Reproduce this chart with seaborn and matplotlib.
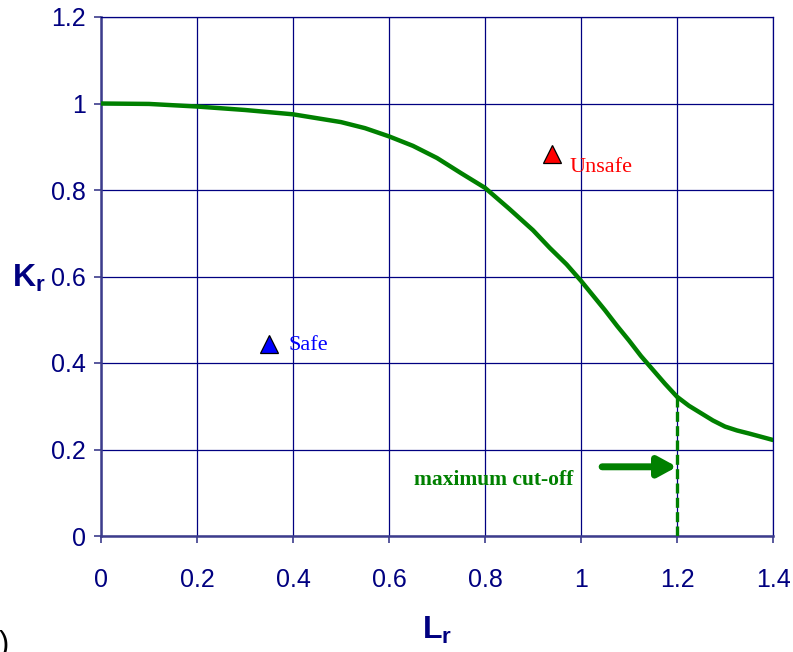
import matplotlib
matplotlib.use("Agg")
import matplotlib.pyplot as plt
import seaborn as sns
import numpy as np
import pandas as pd

# Failure assessment curve
lr_curve = [0.0, 0.1, 0.2, 0.3, 0.4, 0.5, 0.55, 0.6, 0.65, 0.7, 0.75, 0.8,
            0.85, 0.9, 0.935, 0.97, 1.0, 1.025, 1.05, 1.075, 1.1, 1.125,
            1.15, 1.175, 1.2, 1.225, 1.25, 1.275, 1.3, 1.325, 1.35, 1.4]
kr_curve = [1.0, 0.999, 0.993, 0.985, 0.975, 0.957, 0.943, 0.924, 0.902,
            0.874, 0.839, 0.805, 0.757, 0.707, 0.666, 0.628, 0.59, 0.556,
            0.522, 0.486, 0.452, 0.416, 0.384, 0.352, 0.322, 0.301, 0.284,
            0.267, 0.253, 0.244, 0.237, 0.222]

# assessment points
point_names = ["Safe", "Unsafe"]
point_lr = [0.349, 0.94]
point_kr = [0.444, 0.883]
point_colors = ["#0000ff", "#ff0000"]

cutoff_lr = 1.2
x_ticks = [0, 0.2, 0.4, 0.6, 0.8, 1, 1.2, 1.4]
y_ticks = [0, 0.2, 0.4, 0.6, 0.8, 1, 1.2]

sns.set_theme(style="white")
plt.rcParams['font.family'] = ['Liberation Sans', 'DejaVu Sans']
plt.rcParams['mathtext.fontset'] = 'custom'
plt.rcParams['mathtext.bf'] = 'Liberation Sans:bold'
plt.rcParams['mathtext.rm'] = 'Liberation Sans'

navy = "#000080"
frame = "#3c3c8c"

fig = plt.figure(figsize=(7.93, 6.52), dpi=100)
ax = fig.add_axes([101 / 793, 1 - 536 / 652, 672 / 793, 519 / 652])

df = pd.DataFrame({"Lr": lr_curve, "Kr": kr_curve})
sns.lineplot(data=df, x="Lr", y="Kr", ax=ax, color="#008000", lw=3.2,
             zorder=4, estimator=None, sort=False)

# dashed cut-off line up to the curve
kr_at_cut = kr_curve[lr_curve.index(cutoff_lr)]
ax.plot([cutoff_lr, cutoff_lr], [0, kr_at_cut], color="#008000", lw=2.4,
        linestyle=(0, (3.0, 1.3)), zorder=4)

# markers
for name, lx, ky, c in zip(point_names, point_lr, point_kr, point_colors):
    ax.plot(lx, ky, marker="^", ms=12.5, color=c, mec="black", mew=0.9,
            ls="none", zorder=5)

ax.text(0.39, 0.44, "Safe", color="#0000ff", fontsize=16,
        family=['Liberation Serif', 'DejaVu Serif'], va="center", ha="left")
ax.text(0.977, 0.851, "Unsafe", color="#ff0000", fontsize=16,
        family=['Liberation Serif', 'DejaVu Serif'], va="center", ha="left")

ax.text(0.817, 0.129, "maximum cut-off", color="#008000", fontsize=15.5,
        fontweight="bold", family=['Liberation Serif', 'DejaVu Serif'],
        va="center", ha="center")
ax.annotate("", xy=(1.2, 0.16), xytext=(1.044, 0.16),
            arrowprops=dict(arrowstyle="-|>,head_length=0.55,head_width=0.3",
                            lw=5, color="#008000", shrinkA=0, shrinkB=0,
                            mutation_scale=20), zorder=5)

ax.set_xlim(0, 1.4)
ax.set_ylim(0, 1.2)
ax.set_xticks(x_ticks)
ax.set_yticks(y_ticks)
ax.set_xticklabels([f"{t:g}" for t in x_ticks])
ax.set_yticklabels([f"{t:g}" for t in y_ticks])
ax.grid(True, color=navy, lw=0.9)
ax.set_axisbelow(True)
ax.tick_params(axis="both", which="major", direction="out", length=5,
               width=1.2, color=frame, labelcolor=navy, labelsize=18,
               bottom=True, left=True)
ax.tick_params(axis="x", pad=18)
ax.tick_params(axis="y", pad=6)
for side in ["left", "bottom"]:
    ax.spines[side].set_color(frame)
    ax.spines[side].set_linewidth(1.8)
for side in ["top", "right"]:
    ax.spines[side].set_color(navy)
    ax.spines[side].set_linewidth(0.9)
ax.set_xlabel("")
ax.set_ylabel("")

fig.text(12 / 793, 1 - 278 / 652, r"$\mathbf{K}_\mathbf{r}$", color=navy,
         fontsize=23, va="center", ha="left")
fig.text(437 / 793, 1 - 630 / 652, r"$\mathbf{L}_\mathbf{r}$", color=navy,
         fontsize=23, va="center", ha="center")
fig.text(-0.002, -0.012, ")", color="black", fontsize=22, va="bottom", ha="left")

fig.savefig("out.png", dpi=100)
